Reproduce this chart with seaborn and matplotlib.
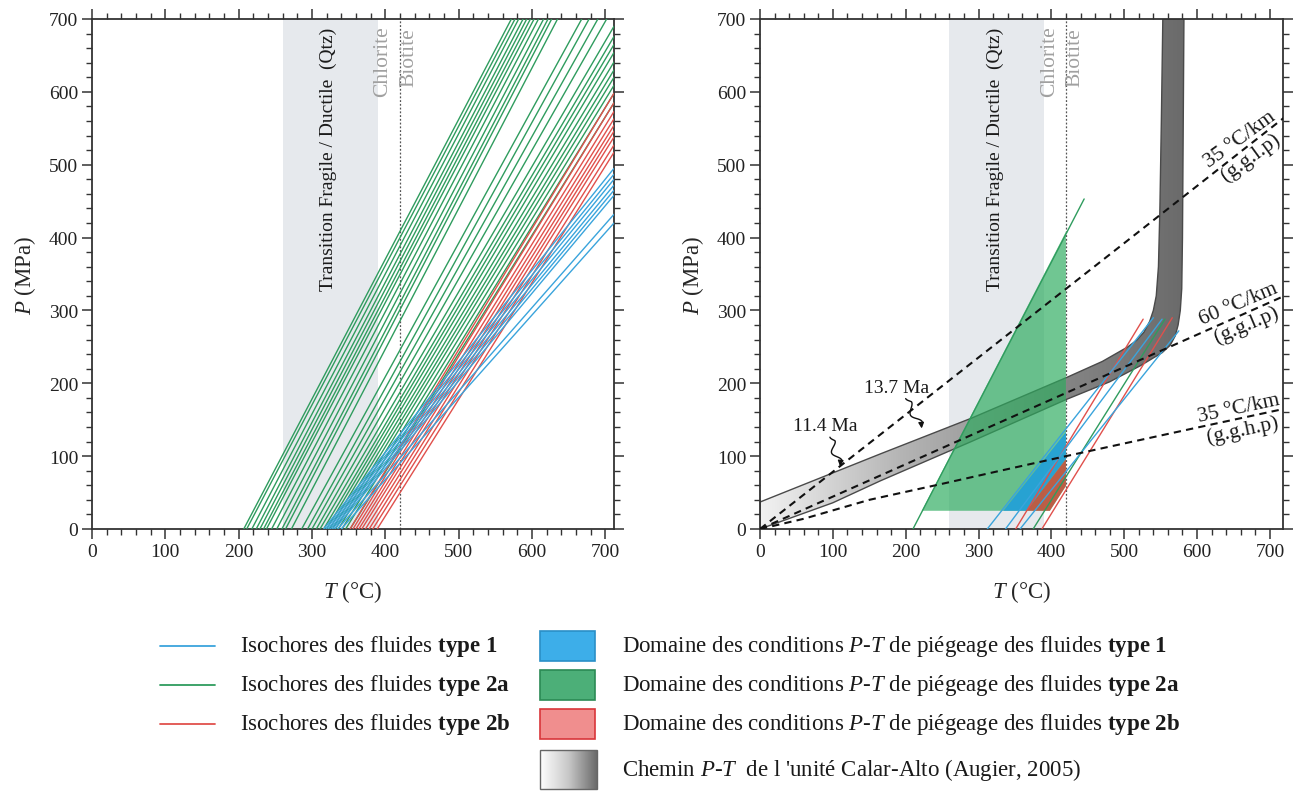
import numpy as np
import pandas as pd
import matplotlib
matplotlib.use("Agg")
import matplotlib.pyplot as plt
import seaborn as sns
from matplotlib.patches import Polygon, Rectangle
from matplotlib.colors import LinearSegmentedColormap
from matplotlib.ticker import MultipleLocator

# ---------------- DATA ----------------
# Left panel isochores : temperature at P = 0, and end point (T, P)
iso2a_t0 = [207, 211, 218, 224, 229, 234, 238, 245, 252, 259, 264, 272,
            286, 294, 300, 306, 311, 316, 320, 324, 328, 332, 336, 341, 346, 352]
iso2a_t1 = [572, 577, 582, 588, 593, 598, 603, 609, 616, 622, 627, 635,
            668, 678, 690, 702, 712, 712, 712, 712, 712, 712, 712, 712, 712, 712]
iso2a_p1 = [700, 700, 700, 700, 700, 700, 700, 700, 700, 700, 700, 700,
            700, 700, 700, 700, 690, 676, 665, 654, 641, 630, 620, 609, 598, 585]

iso2b_t0 = [352, 356, 360, 364, 368, 373, 378, 383, 389]
iso2b_t1 = [712, 712, 712, 712, 712, 712, 712, 712, 712]
iso2b_p1 = [598, 585, 573, 563, 554, 546, 538, 527, 517]

iso1_t0 = [316, 319, 322, 325, 328, 331, 335, 340]
iso1_t1 = [712, 712, 712, 712, 712, 712, 712, 712]
iso1_p1 = [495, 487, 480, 472, 465, 458, 432, 420]

# Right panel isochores
r_iso1_t0 = [312, 337, 357]
r_iso1_t1 = [540, 552, 575]
r_iso1_p1 = [290, 288, 272]
r_iso2a_t0 = [210, 375]
r_iso2a_t1 = [445, 556]
r_iso2a_p1 = [453, 288]
r_iso2b_t0 = [351, 387]
r_iso2b_t1 = [526, 566]
r_iso2b_p1 = [288, 290]

# Trapping P-T domains (polygons)
dom2a_T = [222, 420, 420, 398]
dom2a_P = [25, 408, 59, 25]
dom1_T = [334, 420, 420, 366]
dom1_P = [25, 133, 96, 25]
dom2b_T = [366, 420, 420, 398]
dom2b_P = [25, 96, 59, 25]

# P-T path of the Calar-Alto unit (Augier, 2005): upper and lower envelopes
path_up_T = [0, 165, 290, 421, 470, 505, 517, 527, 535, 540, 544, 547, 549, 551, 553]
path_up_P = [37, 103, 152, 208, 230, 250, 259, 270, 285, 300, 320, 360, 440, 560, 700]
path_lo_T = [0, 100, 165, 290, 421, 480, 522, 552, 563, 570, 574, 577, 579, 580, 581, 582]
path_lo_P = [0, 36, 66, 120, 178, 202, 224, 242, 252, 265, 280, 300, 330, 400, 550, 700]

# Geotherms
geo35l_T = [0, 720]
geo35l_P = [0, 565]
geo60l_T = [0, 720]
geo60l_P = [0, 320]
geo35h_T = [0, 60, 150, 250, 330, 420, 590, 720]
geo35h_P = [0, 14, 40, 62, 80, 100, 137, 165]

# Zones
brittle_ductile = (260, 390)
chlorite_biotite_T = 420

COL1 = "#3aa4dc"
COL2A = "#2f9c5e"
COL2B = "#e0504c"

# ---------------- STYLE ----------------
sns.set_theme(style="ticks")
plt.rcParams.update({
    "font.family": ["Liberation Serif", "DejaVu Serif"],
    "mathtext.fontset": "custom",
    "mathtext.rm": "Liberation Serif",
    "mathtext.it": "Liberation Serif:italic",
    "mathtext.bf": "Liberation Serif:bold",
    "axes.facecolor": "white",
})

fig = plt.figure(figsize=(12.98, 8.03), dpi=100)
W, H = 1298, 803
ax1 = fig.add_axes([92 / W, 1 - 530 / H, (614 - 92) / W, 510 / H])
ax2 = fig.add_axes([760 / W, 1 - 530 / H, (1283 - 760) / W, 510 / H])


def iso_frame(t0, t1, p1, kind, start=0):
    rows = []
    for i, (a, b, c) in enumerate(zip(t0, t1, p1)):
        rows.append({"T": a, "P": 0, "type": kind, "line": f"{kind}-{start + i}"})
        rows.append({"T": b, "P": c, "type": kind, "line": f"{kind}-{start + i}"})
    return pd.DataFrame(rows)


def style_axes(ax, xmax):
    ax.set_xlim(0, xmax)
    ax.set_ylim(0, 700)
    ax.xaxis.set_major_locator(MultipleLocator(100))
    ax.xaxis.set_minor_locator(MultipleLocator(20))
    ax.yaxis.set_major_locator(MultipleLocator(100))
    ax.yaxis.set_minor_locator(MultipleLocator(20))
    ax.tick_params(which="both", direction="out", top=True, right=True,
                   labeltop=False, labelright=False, color="#333333",
                   labelcolor="#222222", labelsize=14)
    ax.tick_params(which="major", length=7, width=1.1, pad=3)
    ax.tick_params(which="minor", length=4, width=1.0)
    for s in ax.spines.values():
        s.set_visible(True)
        s.set_linewidth(1.3)
        s.set_color("#333333")
    ax.grid(False)
    ax.set_xlabel(r"$\mathit{T}$ (°C)", fontsize=16.5, labelpad=13)
    ax.set_ylabel(r"$\mathit{P}$ (MPa)", fontsize=16.5, labelpad=8)


def background(ax):
    ax.axvspan(*brittle_ductile, color="#e6e9ed", lw=0, zorder=0)
    ax.axvline(chlorite_biotite_T, color="#555555", ls=(0, (1.5, 1.5)), lw=0.9, zorder=1)
    ax.text(323, 690, "Transition Fragile / Ductile  (Qtz)", rotation=90,
            ha="center", va="top", fontsize=14, color="#1a1a1a", zorder=1)
    ax.text(397, 692, "Chlorite", rotation=90, ha="center", va="top",
            fontsize=15.5, color="#a0a0a0", zorder=1)
    ax.text(432, 689, "Biotite", rotation=90, ha="center", va="top",
            fontsize=15.5, color="#a0a0a0", zorder=1)


pal = {"2a": COL2A, "2b": COL2B, "1": COL1}

# ---------------- LEFT PANEL ----------------
background(ax1)
df_left = pd.concat([iso_frame(iso2a_t0, iso2a_t1, iso2a_p1, "2a"),
                     iso_frame(iso2b_t0, iso2b_t1, iso2b_p1, "2b"),
                     iso_frame(iso1_t0, iso1_t1, iso1_p1, "1")])
sns.lineplot(data=df_left, x="T", y="P", hue="type", units="line", estimator=None,
             sort=False, palette=pal, hue_order=["2a", "2b", "1"], legend=False,
             linewidth=1.0, ax=ax1, zorder=3)
style_axes(ax1, 712)

# ---------------- RIGHT PANEL ----------------
background(ax2)

# P-T path with gradient fill
verts = list(zip(path_up_T, path_up_P)) + list(zip(path_lo_T[::-1], path_lo_P[::-1]))
band = Polygon(verts, closed=True, fc="none", ec="#4a4a4a", lw=1.0, zorder=2.5)
ax2.add_patch(band)
cmap_path = LinearSegmentedColormap.from_list("path", ["#f2f2f2", "#b4b4b4", "#8a8a8a", "#6a6a6a"])
grad = np.linspace(0, 1, 256).reshape(1, -1)
im = ax2.imshow(grad, extent=[0, 585, 0, 700], origin="lower", aspect="auto",
                cmap=cmap_path, zorder=2, interpolation="bilinear")
im.set_clip_path(band)

# trapping domains
ax2.add_patch(Polygon(list(zip(dom2a_T, dom2a_P)), closed=True, fc="#2dab5e",
                      alpha=0.68, lw=0, zorder=3))
ax2.add_patch(Polygon(list(zip(dom1_T, dom1_P)), closed=True, fc="#1e9fdc",
                      alpha=0.88, lw=0, zorder=3.2))
ax2.add_patch(Polygon(list(zip(dom2b_T, dom2b_P)), closed=True, fc="#d73c2d",
                      alpha=0.75, lw=0, zorder=3.4))

df_right = pd.concat([iso_frame(r_iso2a_t0, r_iso2a_t1, r_iso2a_p1, "2a"),
                      iso_frame(r_iso2b_t0, r_iso2b_t1, r_iso2b_p1, "2b"),
                      iso_frame(r_iso1_t0, r_iso1_t1, r_iso1_p1, "1")])
sns.lineplot(data=df_right, x="T", y="P", hue="type", units="line", estimator=None,
             sort=False, palette=pal, hue_order=["2a", "2b", "1"], legend=False,
             linewidth=1.0, ax=ax2, zorder=4)

dash = (0, (3.5, 2.5))
for gT, gP in [(geo35l_T, geo35l_P), (geo60l_T, geo60l_P), (geo35h_T, geo35h_P)]:
    ax2.plot(gT, gP, color="#111111", lw=1.5, ls=dash, zorder=5)

# geotherm labels (numerator above line, denominator below)
for (tx, ty, ang, top, bot) in [(666, 523, 36, "35 °C/km", "(g.g.l.p)"),
                                (662, 295, 23, "60 °C/km", "(g.g.l.p)"),
                                (660, 152, 12, "35 °C/km", "(g.g.h.p)")]:
    ax2.text(tx, ty + 2, top, rotation=ang, rotation_mode="anchor", ha="center",
             va="bottom", fontsize=15.5, color="#1a1a1a", zorder=6)
    ax2.text(tx, ty - 2, bot, rotation=ang, rotation_mode="anchor", ha="center",
             va="top", fontsize=15.5, color="#1a1a1a", zorder=6)


def squiggle(ax, x0, y0, x1, y1, waves=1.5, amp=5.0):
    t = np.linspace(0, 1, 80)
    dx, dy = x1 - x0, y1 - y0
    L = np.hypot(dx, dy)
    nx, ny = -dy / L, dx / L
    env = np.clip(np.minimum(t, 1 - t) * 6, 0, 1)
    off = amp * np.sin(2 * np.pi * waves * t) * env
    xs = x0 + dx * t + nx * off
    ys = y0 + dy * t + ny * off
    ax.plot(xs[:-6], ys[:-6], color="#111111", lw=1.0, zorder=7)
    ax.annotate("", xy=(x1, y1), xytext=(xs[-7], ys[-7]),
                arrowprops=dict(arrowstyle="-|>", color="#111111", lw=1.0,
                                mutation_scale=8, shrinkA=0, shrinkB=0), zorder=7)


ax2.text(89, 130, "11.4 Ma", ha="center", va="bottom", fontsize=14, color="#1a1a1a", zorder=7)
squiggle(ax2, 96, 126, 110, 86)
ax2.text(188, 183, "13.7 Ma", ha="center", va="bottom", fontsize=14, color="#1a1a1a", zorder=7)
squiggle(ax2, 200, 179, 222, 138)

style_axes(ax2, 718)

# ---------------- LEGEND ----------------
axl = fig.add_axes([0, 0, 1, 1 - 600 / H])
axl.axis("off")

LFS = 16.5
rows = [(647, COL1, "#3daee9", "#2a8fc7", "1"),
        (686, COL2A, "#4caf78", "#2b8a55", "2a"),
        (725, COL2B, "#f08e8e", "#d9363a", "2b")]
for y, lc, fc, ec, lab in rows:
    axl.plot([160, 215], [y, y], color=lc, lw=1.3)
    axl.text(240, y, r"Isochores des fluides $\mathbf{type\ " + lab + "}$",
             ha="left", va="center", fontsize=LFS, color="#1a1a1a")
    axl.add_patch(Rectangle((540, y - 15), 55, 30, fc=fc, ec=ec, lw=1.2))
    axl.text(622, y, r"Domaine des conditions $\mathit{P}$-$\mathit{T}$ de piégeage des fluides $\mathbf{type\ " + lab + "}$",
             ha="left", va="center", fontsize=LFS, color="#1a1a1a")

cmap_leg = LinearSegmentedColormap.from_list("leg", ["#ffffff", "#c8c8c8", "#6a6a6a"])
axl.imshow(grad, extent=[540, 597, 790, 751], aspect="auto", cmap=cmap_leg, zorder=1)
axl.add_patch(Rectangle((540, 751), 57, 39, fc="none", ec="#666666", lw=1.0, zorder=2))
axl.text(622, 770, r"Chemin $\mathit{P}$-$\mathit{T}$  de l 'unité Calar-Alto (Augier, 2005)",
         ha="left", va="center", fontsize=LFS, color="#1a1a1a")
axl.set_xlim(0, W)
axl.set_ylim(H, 600)

fig.savefig("out.png", dpi=100)
